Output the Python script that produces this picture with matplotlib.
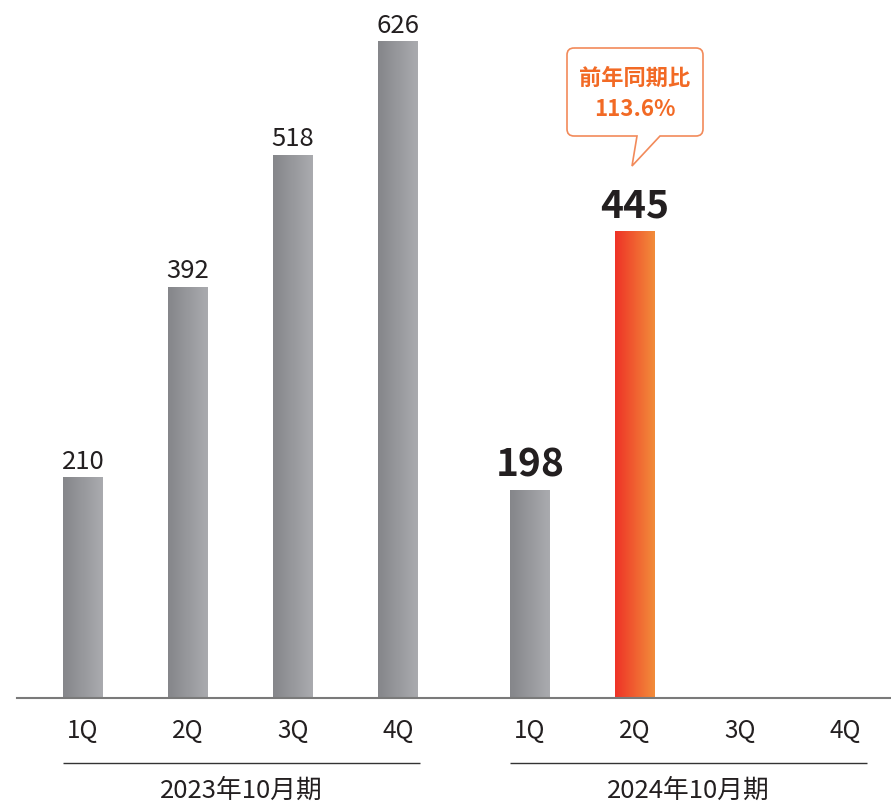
import numpy as np
import matplotlib
matplotlib.use("Agg")
from matplotlib import pyplot as plt
from matplotlib.path import Path
from matplotlib.patches import PathPatch
from matplotlib.colors import LinearSegmentedColormap

plt.rcParams["font.family"] = ["Noto Sans CJK JP", "DejaVu Sans"]

quarters = ["1Q", "2Q", "3Q", "4Q"]
periods = ["2023年10月期", "2024年10月期"]
sales_2023 = [210, 392, 518, 626]
sales_2024 = [198, 445]
yoy_label = "前年同期比\n113.6%"

GREY_L, GREY_R = "#85868a", "#aaabaf"
ORANGE_L, ORANGE_R = "#ee3327", "#f28c3a"
ACCENT = "#f26a25"
TEXT = "#231f20"

group_gap = 4 + 27 / 105
bar_w = 40 / 105

pos_2023 = np.arange(4)
pos_2024 = np.arange(4) + group_gap

fig = plt.figure(figsize=(8.91, 8.04), dpi=100)
ax = fig.add_axes([0, 0, 1, 1])
ax.set_xlim(-83 / 105, (891 - 83) / 105)
ax.set_ylim(-105 / 1.048, 699 / 1.048)
ax.axis("off")

grey_cmap = LinearSegmentedColormap.from_list("greybar", [GREY_L, GREY_R])
orange_cmap = LinearSegmentedColormap.from_list("orangebar", [ORANGE_L, ORANGE_R])
grad = np.linspace(0, 1, 64).reshape(1, -1)


def gradient_bar(x, h, cmap):
    ax.imshow(grad, cmap=cmap, aspect="auto", interpolation="bilinear",
              extent=(x - bar_w / 2, x + bar_w / 2, 0, h), zorder=2)


# previous year bars
for x, v in zip(pos_2023, sales_2023):
    gradient_bar(x, v, grey_cmap)
    ax.text(x, v + 4, str(v), ha="center", va="bottom", fontsize=18.5,
            color=TEXT)

# current year bars (latest quarter highlighted)
for i, (x, v) in enumerate(zip(pos_2024, sales_2024)):
    cmap = orange_cmap if i == len(sales_2024) - 1 else grey_cmap
    gradient_bar(x, v, cmap)
    ax.text(x, v + 7, str(v), ha="center", va="bottom", fontsize=28,
            fontweight="bold", color=TEXT)

# baseline
ax.axhline(0, xmin=17 / 891, xmax=1, color="#7a7a7a", lw=1.5, zorder=3)

# quarter labels, period underline and period name
for positions, name in zip([pos_2023, pos_2024], periods):
    for x, q in zip(positions, quarters):
        ax.text(x, -31, q, ha="center", va="center", fontsize=17.5, color=TEXT)
    ax.hlines(-62, positions[0] - 0.19, positions[-1] + 0.21,
              color="#333333", lw=1.0)
    ax.text(positions.mean() + 0.01, -87.5, name, ha="center", va="center",
            fontsize=18.5, color=TEXT)

# speech bubble over the highlighted bar
ov = fig.add_axes([0, 0, 1, 1])
ov.set_xlim(0, 891)
ov.set_ylim(804, 0)
ov.axis("off")
ov.patch.set_alpha(0)

x0, x1, y0, y1, r = 567, 703, 49, 137, 7
tail = [(660, y1), (632, 167), (637, y1)]
verts = [
    (x0 + r, y0), (x1 - r, y0), (x1, y0), (x1, y0 + r),
    (x1, y1 - r), (x1, y1), (x1 - r, y1),
    tail[0], tail[1], tail[2],
    (x0 + r, y1), (x0, y1), (x0, y1 - r),
    (x0, y0 + r), (x0, y0), (x0 + r, y0),
]
codes = [
    Path.MOVETO, Path.LINETO, Path.CURVE3, Path.CURVE3,
    Path.LINETO, Path.CURVE3, Path.CURVE3,
    Path.LINETO, Path.LINETO, Path.LINETO,
    Path.LINETO, Path.CURVE3, Path.CURVE3,
    Path.LINETO, Path.CURVE3, Path.CURVE3,
]
ov.add_patch(PathPatch(Path(verts, codes), facecolor="white",
                       edgecolor="#f28a5a", lw=1.2))
ov.text((x0 + x1) / 2, (y0 + y1) / 2 + 1, yoy_label, ha="center",
        va="center", fontsize=16, fontweight="bold", color=ACCENT,
        linespacing=1.5)

fig.savefig("out.png", dpi=100)
